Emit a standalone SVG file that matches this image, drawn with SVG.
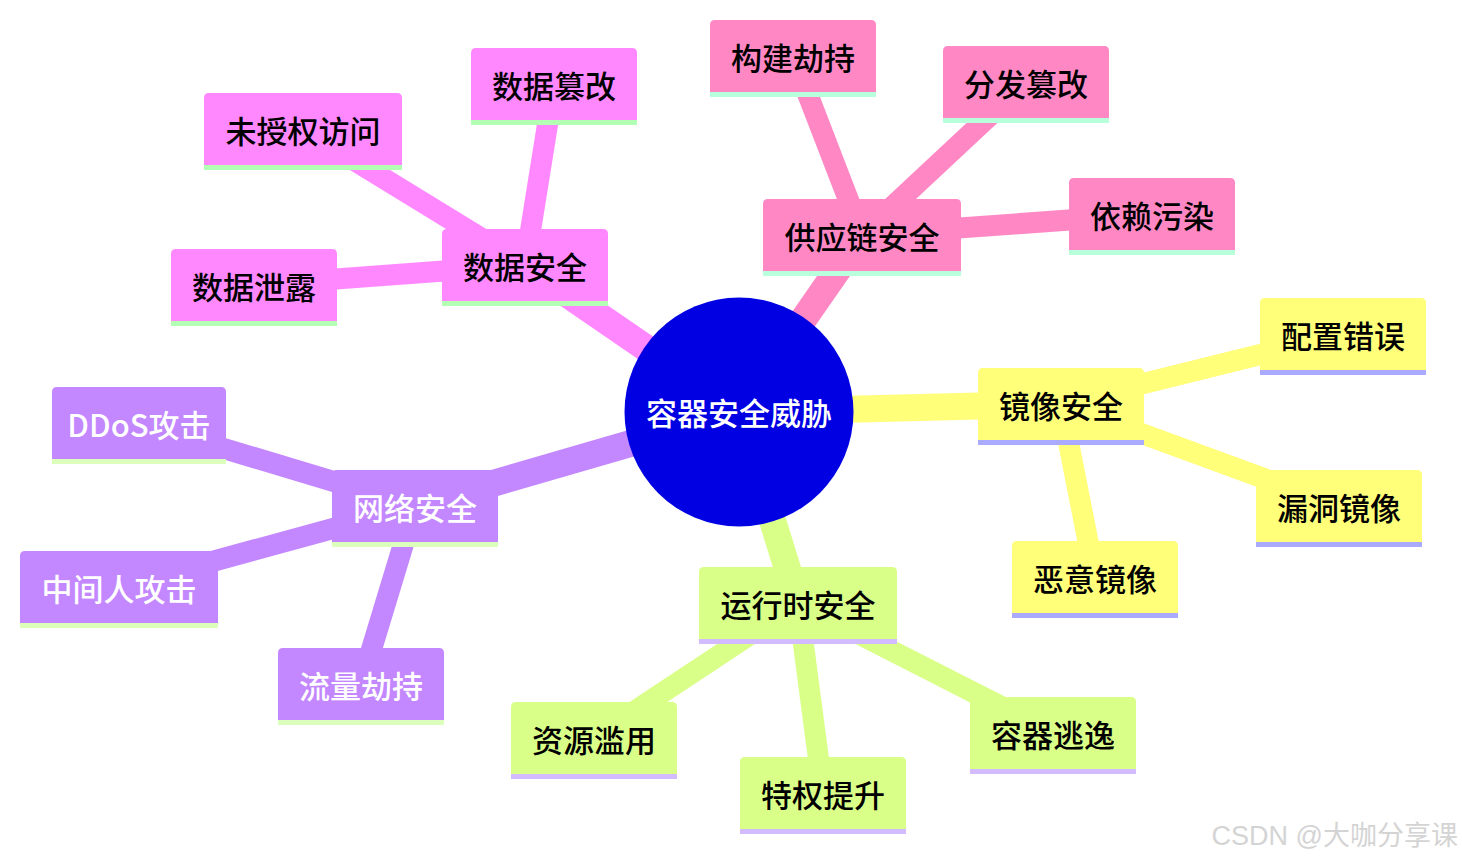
<svg xmlns="http://www.w3.org/2000/svg" width="1462" height="860" viewBox="0 0 1462 860">
<style>
.t{font-family:"Noto Sans CJK SC","Noto Sans",sans-serif;font-size:31px;font-weight:500;text-anchor:middle;dominant-baseline:central}
.dk{fill:#000}
.wt{fill:#fff}
.e0{stroke-width:27;fill:none;stroke-linecap:butt}
.e1{stroke-width:21;fill:none;stroke-linecap:butt}
.s1{stroke:#ff88ff}.f1{fill:#ff88ff}.u1{fill:#b3ffb3}
.s2{stroke:#ff88c4}.f2{fill:#ff88c4}.u2{fill:#b8ffdc}
.s3{stroke:#ffff7a}.f3{fill:#ffff7a}.u3{fill:#aaaaff}
.s4{stroke:#daff88}.f4{fill:#daff88}.u4{fill:#d2bbff}
.s5{stroke:#c387ff}.f5{fill:#c387ff}.u5{fill:#dcffbb}
</style>
<rect width="1462" height="860" fill="#fff"/>
<g id="connectors">
<line class="e0 s1" x1="739" y1="412" x2="525" y2="265"/>
<line class="e1 s1" x1="525" y1="265" x2="303" y2="129"/>
<line class="e1 s1" x1="525" y1="265" x2="554" y2="84"/>
<line class="e1 s1" x1="525" y1="265" x2="254" y2="285"/>
<line class="e0 s2" x1="739" y1="412" x2="862" y2="235"/>
<line class="e1 s2" x1="862" y1="235" x2="793" y2="56"/>
<line class="e1 s2" x1="862" y1="235" x2="1026" y2="82"/>
<line class="e1 s2" x1="862" y1="235" x2="1152" y2="214"/>
<line class="e0 s3" x1="739" y1="412" x2="1061" y2="404"/>
<line class="e1 s3" x1="1061" y1="404" x2="1343" y2="334"/>
<line class="e1 s3" x1="1061" y1="404" x2="1339" y2="506"/>
<line class="e1 s3" x1="1061" y1="404" x2="1095" y2="577"/>
<line class="e0 s4" x1="739" y1="412" x2="798" y2="603"/>
<line class="e1 s4" x1="798" y1="603" x2="594" y2="738"/>
<line class="e1 s4" x1="798" y1="603" x2="823" y2="793"/>
<line class="e1 s4" x1="798" y1="603" x2="1053" y2="733"/>
<line class="e0 s5" x1="739" y1="412" x2="415" y2="506"/>
<line class="e1 s5" x1="415" y1="506" x2="139" y2="423"/>
<line class="e1 s5" x1="415" y1="506" x2="119" y2="587"/>
<line class="e1 s5" x1="415" y1="506" x2="361" y2="684"/>
</g>
<g id="root">
<circle cx="739" cy="412" r="114.5" fill="#0000e2"/>
<text class="t wt" x="739" y="411">容器安全威胁</text>
</g>
<g id="n-data">
<path class="f1" d="M442,301V234Q442,229 447,229H603Q608,229 608,234V301Z"/>
<rect class="u1" x="442" y="301" width="166" height="5"/>
<text class="t dk" x="525" y="265">数据安全</text>
</g>
<g id="n-unauth">
<path class="f1" d="M204,165V98Q204,93 209,93H397Q402,93 402,98V165Z"/>
<rect class="u1" x="204" y="165" width="198" height="5"/>
<text class="t dk" x="303" y="129">未授权访问</text>
</g>
<g id="n-tamper">
<path class="f1" d="M471,120V53Q471,48 476,48H632Q637,48 637,53V120Z"/>
<rect class="u1" x="471" y="120" width="166" height="5"/>
<text class="t dk" x="554" y="84">数据篡改</text>
</g>
<g id="n-leak">
<path class="f1" d="M171,321V254Q171,249 176,249H332Q337,249 337,254V321Z"/>
<rect class="u1" x="171" y="321" width="166" height="5"/>
<text class="t dk" x="254" y="285">数据泄露</text>
</g>
<g id="n-supply">
<path class="f2" d="M763,271V204Q763,199 768,199H956Q961,199 961,204V271Z"/>
<rect class="u2" x="763" y="271" width="198" height="5"/>
<text class="t dk" x="862" y="235">供应链安全</text>
</g>
<g id="n-build">
<path class="f2" d="M710,92V25Q710,20 715,20H871Q876,20 876,25V92Z"/>
<rect class="u2" x="710" y="92" width="166" height="5"/>
<text class="t dk" x="793" y="56">构建劫持</text>
</g>
<g id="n-dist">
<path class="f2" d="M943,118V51Q943,46 948,46H1104Q1109,46 1109,51V118Z"/>
<rect class="u2" x="943" y="118" width="166" height="5"/>
<text class="t dk" x="1026" y="82">分发篡改</text>
</g>
<g id="n-dep">
<path class="f2" d="M1069,250V183Q1069,178 1074,178H1230Q1235,178 1235,183V250Z"/>
<rect class="u2" x="1069" y="250" width="166" height="5"/>
<text class="t dk" x="1152" y="214">依赖污染</text>
</g>
<g id="n-image">
<path class="f3" d="M978,440V373Q978,368 983,368H1139Q1144,368 1144,373V440Z"/>
<rect class="u3" x="978" y="440" width="166" height="5"/>
<text class="t dk" x="1061" y="404">镜像安全</text>
</g>
<g id="n-config">
<path class="f3" d="M1260,370V303Q1260,298 1265,298H1421Q1426,298 1426,303V370Z"/>
<rect class="u3" x="1260" y="370" width="166" height="5"/>
<text class="t dk" x="1343" y="334">配置错误</text>
</g>
<g id="n-vuln">
<path class="f3" d="M1256,542V475Q1256,470 1261,470H1417Q1422,470 1422,475V542Z"/>
<rect class="u3" x="1256" y="542" width="166" height="5"/>
<text class="t dk" x="1339" y="506">漏洞镜像</text>
</g>
<g id="n-malicious">
<path class="f3" d="M1012,613V546Q1012,541 1017,541H1173Q1178,541 1178,546V613Z"/>
<rect class="u3" x="1012" y="613" width="166" height="5"/>
<text class="t dk" x="1095" y="577">恶意镜像</text>
</g>
<g id="n-runtime">
<path class="f4" d="M699,639V572Q699,567 704,567H892Q897,567 897,572V639Z"/>
<rect class="u4" x="699" y="639" width="198" height="5"/>
<text class="t dk" x="798" y="603">运行时安全</text>
</g>
<g id="n-abuse">
<path class="f4" d="M511,774V707Q511,702 516,702H672Q677,702 677,707V774Z"/>
<rect class="u4" x="511" y="774" width="166" height="5"/>
<text class="t dk" x="594" y="738">资源滥用</text>
</g>
<g id="n-priv">
<path class="f4" d="M740,829V762Q740,757 745,757H901Q906,757 906,762V829Z"/>
<rect class="u4" x="740" y="829" width="166" height="5"/>
<text class="t dk" x="823" y="793">特权提升</text>
</g>
<g id="n-escape">
<path class="f4" d="M970,769V702Q970,697 975,697H1131Q1136,697 1136,702V769Z"/>
<rect class="u4" x="970" y="769" width="166" height="5"/>
<text class="t dk" x="1053" y="733">容器逃逸</text>
</g>
<g id="n-network">
<path class="f5" d="M332,542V475Q332,470 337,470H493Q498,470 498,475V542Z"/>
<rect class="u5" x="332" y="542" width="166" height="5"/>
<text class="t wt" x="415" y="506">网络安全</text>
</g>
<g id="n-ddos">
<path class="f5" d="M52,459V392Q52,387 57,387H221Q226,387 226,392V459Z"/>
<rect class="u5" x="52" y="459" width="174" height="5"/>
<text class="t wt" x="139" y="423">DDoS攻击</text>
</g>
<g id="n-mitm">
<path class="f5" d="M20,623V556Q20,551 25,551H213Q218,551 218,556V623Z"/>
<rect class="u5" x="20" y="623" width="198" height="5"/>
<text class="t wt" x="119" y="587">中间人攻击</text>
</g>
<g id="n-hijack">
<path class="f5" d="M278,720V653Q278,648 283,648H439Q444,648 444,653V720Z"/>
<rect class="u5" x="278" y="720" width="166" height="5"/>
<text class="t wt" x="361" y="684">流量劫持</text>
</g>
<text x="1458" y="845" font-family="'Liberation Sans','Noto Sans CJK SC',sans-serif" font-size="27" fill="#d4d4d4" text-anchor="end">CSDN @大咖分享课</text>
</svg>
